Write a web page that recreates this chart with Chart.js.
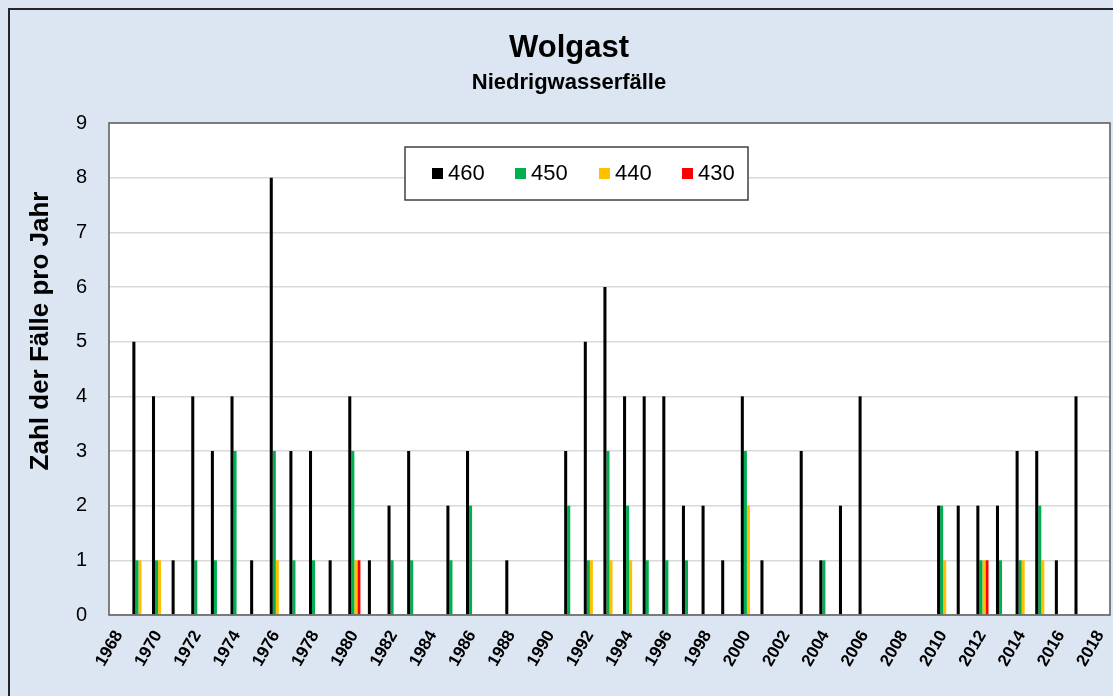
<!DOCTYPE html>
<html><head><meta charset="utf-8">
<script src="https://cdn.jsdelivr.net/npm/chart.js@4.4.1/dist/chart.umd.min.js"></script>
<style>html,body{margin:0;padding:0;background:#DCE6F2;overflow:hidden}</style>
</head><body>
<canvas id="c" width="1113" height="696"></canvas>
<script>
// Categories (years)
const years = ['1968','1969','1970','1971','1972','1973','1974','1975','1976','1977',
  '1978','1979','1980','1981','1982','1983','1984','1985','1986','1987',
  '1988','1989','1990','1991','1992','1993','1994','1995','1996','1997',
  '1998','1999','2000','2001','2002','2003','2004','2005','2006','2007',
  '2008','2009','2010','2011','2012','2013','2014','2015','2016','2017','2018'];
// Number of low-water cases per year, by threshold (cm)
const s460 = [0,5,4,1,4,3,4,1,8,3, 3,1,4,1,2,3,0,2,3,0, 1,0,0,3,5,6,4,4,4,2, 2,1,4,1,0,3,1,2,4,0, 0,0,2,2,2,2,3,3,1,4, 0];
const s450 = [0,1,1,0,1,1,3,0,3,1, 1,0,3,0,1,1,0,1,2,0, 0,0,0,2,1,3,2,1,1,1, 0,0,3,0,0,0,1,0,0,0, 0,0,2,0,1,1,1,2,0,0, 0];
const s440 = [0,1,1,0,0,0,0,0,1,0, 0,0,1,0,0,0,0,0,0,0, 0,0,0,0,1,1,1,0,0,0, 0,0,2,0,0,0,0,0,0,0, 0,0,1,0,1,0,1,1,0,0, 0];
const s430 = [0,0,0,0,0,0,0,0,0,0, 0,0,1,0,0,0,0,0,0,0, 0,0,0,0,0,0,0,0,0,0, 0,0,0,0,0,0,0,0,0,0, 0,0,0,0,1,0,0,0,0,0, 0];
const seriesLabels = ['460','450','440','430'];
const seriesColors = ['#000000','#00B050','#FFC000','#FF0000'];
const yMin = 0, yMax = 9, yStep = 1;
const yTitle = 'Zahl der Fälle pro Jahr';

const FONT = "'Liberation Sans', Arial, sans-serif";

const bgPlugin = {
  id:'bg',
  beforeDraw(chart){
    const ctx = chart.ctx, a = chart.chartArea;
    ctx.save();
    ctx.fillStyle = '#DCE6F2';
    ctx.fillRect(0,0,chart.width,chart.height);
    ctx.strokeStyle = '#262626';
    ctx.lineWidth = 2;
    ctx.strokeRect(9,9,1300,900);
    ctx.fillStyle = '#FFFFFF';
    ctx.fillRect(a.left,a.top,a.right-a.left,a.bottom-a.top);
    ctx.restore();
  },
  afterDraw(chart){
    const ctx = chart.ctx, a = chart.chartArea;
    ctx.save();
    ctx.strokeStyle = '#595959';
    ctx.lineWidth = 1.5;
    ctx.strokeRect(a.left,a.top,a.right-a.left,a.bottom-a.top);
    // y axis title
    ctx.save();
    ctx.translate(41, 331);
    ctx.rotate(-Math.PI/2);
    ctx.font = 'bold 26px ' + FONT;
    ctx.fillStyle = '#000';
    ctx.textAlign = 'center';
    ctx.textBaseline = 'middle';
    ctx.fillText(yTitle, 0, 0);
    ctx.restore();
    // legend box
    const bx = 405, by = 147, bw = 343, bh = 53;
    ctx.fillStyle = '#FFFFFF';
    ctx.fillRect(bx,by,bw,bh);
    ctx.strokeStyle = '#404040';
    ctx.lineWidth = 1.5;
    ctx.strokeRect(bx,by,bw,bh);
    const sx = [432,515,599,682];
    ctx.font = '22px ' + FONT;
    ctx.textBaseline = 'middle';
    ctx.textAlign = 'left';
    chart.data.datasets.forEach((ds,i)=>{
      ctx.fillStyle = ds.backgroundColor;
      ctx.fillRect(sx[i],168,11,11);
      ctx.fillStyle = '#000';
      ctx.fillText(ds.label, sx[i]+16, 174);
    });
    ctx.restore();
  }
};

const datasets = [s460,s450,s440,s430].map((d,i)=>({
  label: seriesLabels[i],
  data: d,
  backgroundColor: seriesColors[i],
  borderWidth: 0,
  categoryPercentage: 0.62,
  barPercentage: 1.0
}));

new Chart(document.getElementById('c'), {
  type:'bar',
  data:{labels:years, datasets},
  plugins:[bgPlugin],
  options:{
    responsive:false,
    animation:false,
    layout:{padding:{left:28,right:3,top:0,bottom:0}},
    plugins:{
      legend:{display:false},
      tooltip:{enabled:false},
      title:{display:true,text:'Wolgast',color:'#000',
        font:{family:FONT,size:31,weight:'bold'},padding:{top:30,bottom:0}},
      subtitle:{display:true,text:'Niedrigwasserfälle',color:'#000',
        font:{family:FONT,size:22,weight:'bold'},padding:{top:3,bottom:26.4}}
    },
    scales:{
      x:{
        type:'category',
        offset:true,
        grid:{display:false,drawTicks:false},
        border:{display:false},
        ticks:{
          autoSkip:false,maxRotation:60,minRotation:60,padding:12,color:'#000',
          font:{family:FONT,size:17,weight:'bold'},
          callback:function(v){ const l = this.getLabelForValue(v); return (parseInt(l,10)%2===0) ? l : ''; }
        },
        afterFit:(s)=>{ s.height = 81; s.paddingLeft = 0; s.paddingRight = 0; }
      },
      y:{
        min:yMin,max:yMax,
        ticks:{stepSize:yStep,padding:22,color:'#000',font:{family:FONT,size:20}},
        grid:{color:'#D9D9D9',lineWidth:1.5,drawTicks:false},
        border:{display:false},
        title:{display:false},
        afterFit:(s)=>{ s.width = 81; s.paddingTop = 0; s.paddingBottom = 0; }
      }
    }
  }
});
</script>
</body></html>
